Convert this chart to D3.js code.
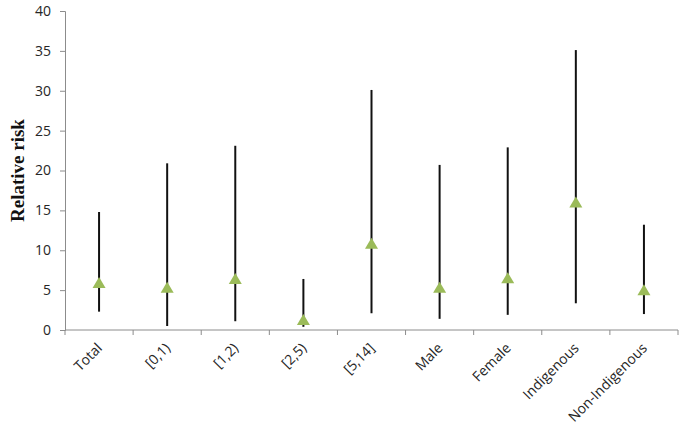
<!DOCTYPE html>
<html>
<head>
<meta charset="utf-8">
<script src="https://cdn.jsdelivr.net/npm/d3@7"></script>
<style>
  body { margin: 0; background: white; }
  .tick text { font-family: "Open Sans", sans-serif; font-size: 14px; fill: #262626; }
</style>
</head>
<body>
<div id="graf"></div>
<script>
// Datos
const categorias = ['Total', '[0,1)', '[1,2)', '[2,5)', '[5,14]', 'Male', 'Female', 'Indigenous', 'Non-Indigenous']
const riesgo = [5.9, 5.3, 6.4, 1.25, 10.8, 5.3, 6.5, 16.0, 5.0]
const inferior = [2.3, 0.5, 1.1, 0.4, 2.1, 1.4, 1.9, 3.35, 2.0]
const superior = [14.8, 20.9, 23.1, 6.4, 30.1, 20.7, 22.9, 35.1, 13.2]
const yTicks = [0, 5, 10, 15, 20, 25, 30, 35, 40]

const data = categorias.map((c, i) => ({
  cat: c,
  valor: riesgo[i],
  lo: inferior[i],
  hi: superior[i]
}))

// Dimensiones
const anchoTotal = 685
const altoTotal = 430
const margins = { top: 11, right: 7, bottom: 100, left: 65 }
const ancho = anchoTotal - margins.left - margins.right
const alto = altoTotal - margins.top - margins.bottom

const svg = d3.select('#graf')
  .append('svg')
  .attr('width', anchoTotal)
  .attr('height', altoTotal)

const g = svg.append('g')
  .attr('transform', `translate(${margins.left}, ${margins.top})`)

// Escaladores
const x = d3.scaleBand()
  .domain(categorias)
  .range([0, ancho])

const y = d3.scaleLinear()
  .domain([0, 40])
  .range([alto, 0])

// Eje Y
const yAxis = g.append('g')
  .call(d3.axisLeft(y).tickValues(yTicks).tickSize(5).tickPadding(9))
yAxis.selectAll('line, path').attr('stroke', '#8c8c8c')

// Eje X con marcas entre categorías
const xAxis = g.append('g')
  .attr('transform', `translate(0, ${alto})`)
xAxis.append('line')
  .attr('x1', 0).attr('x2', ancho)
  .attr('stroke', '#8c8c8c')
xAxis.selectAll('.sep')
  .data(d3.range(categorias.length + 1))
  .enter()
  .append('line')
  .attr('class', 'sep')
  .attr('x1', (i) => i * x.bandwidth())
  .attr('x2', (i) => i * x.bandwidth())
  .attr('y1', 0)
  .attr('y2', 5)
  .attr('stroke', '#8c8c8c')

xAxis.selectAll('.lab')
  .data(categorias)
  .enter()
  .append('text')
  .attr('class', 'lab')
  .attr('transform', (d) => `translate(${x(d) + x.bandwidth() / 2 + 4}, 19) rotate(-45)`)
  .attr('text-anchor', 'end')
  .attr('font-family', '"Open Sans", sans-serif')
  .attr('font-size', 14)
  .attr('fill', '#262626')
  .text((d) => d)

// Intervalos
g.selectAll('.ic')
  .data(data)
  .enter()
  .append('line')
  .attr('class', 'ic')
  .attr('x1', (d) => x(d.cat) + x.bandwidth() / 2)
  .attr('x2', (d) => x(d.cat) + x.bandwidth() / 2)
  .attr('y1', (d) => y(d.lo))
  .attr('y2', (d) => y(d.hi))
  .attr('stroke', '#111')
  .attr('stroke-width', 2)

// Triángulos
g.selectAll('.punto')
  .data(data)
  .enter()
  .append('path')
  .attr('class', 'punto')
  .attr('transform', (d) => `translate(${x(d.cat) + x.bandwidth() / 2}, ${y(d.valor)})`)
  .attr('d', 'M0,-6 L6.5,5 L-6.5,5 Z')
  .attr('fill', '#9bbb59')

// Título eje Y
svg.append('text')
  .attr('transform', `translate(24, ${margins.top + alto / 2}) rotate(-90)`)
  .attr('text-anchor', 'middle')
  .attr('font-family', '"Liberation Serif", "Times New Roman", serif')
  .attr('font-weight', 'bold')
  .attr('font-size', 19)
  .attr('fill', '#111')
  .text('Relative risk')
</script>
</body>
</html>
